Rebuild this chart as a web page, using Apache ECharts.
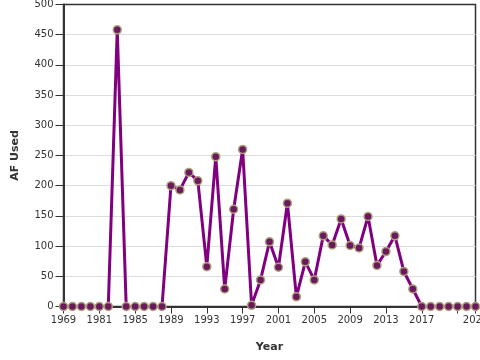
<!DOCTYPE html>
<html><head><meta charset="utf-8">
<script src="https://cdn.jsdelivr.net/npm/echarts@6/dist/echarts.min.js"></script>
<style>html,body{margin:0;padding:0;background:#fff}#c{width:480px;height:360px}</style>
</head><body><div id="c"></div>
<script>
const years = ['1969','1978','1979','1980','1981','1982','1983','1984','1985','1986','1987','1988',
  '1989','1990','1991','1992','1993','1994','1995','1996','1997','1998','1999','2000','2001','2002',
  '2003','2004','2005','2006','2007','2008','2009','2010','2011','2012','2013','2014','2015','2016',
  '2017','2018','2019','2020','2021','2022','2023'];
const afUsed = [0,0,0,0,0,0,458,0,0,0,0,0,
  200,193,222,208,66,248,29,161,260,2,44,107,65,171,
  16,74,44,117,102,145,101,97,149,68,91,117,58,29,
  0,0,0,0,0,0,0];
const yTicks = {min:0, max:500, interval:50};

const last = years.length - 1;
const chart = echarts.init(document.getElementById('c'), null, {renderer:'canvas'});
chart.setOption({
  animation:false,
  grid:{left:63.5, right:4.5, top:4.5, bottom:53.5, show:true, borderColor:'#333', borderWidth:1.5,
    containLabel:false, outerBoundsMode:'none'},
  xAxis:{
    type:'category', data:years, boundaryGap:false,
    name:'Year', nameLocation:'middle', nameGap:35,
    nameTextStyle:{fontFamily:'DejaVu Sans', fontWeight:'bold', fontSize:11, color:'#333'},
    axisLine:{lineStyle:{color:'#333', width:2}},
    axisTick:{length:7, lineStyle:{color:'#333', width:1}, interval:(i)=> i%4===0 || i===last},
    axisLabel:{fontFamily:'DejaVu Sans', fontSize:10, color:'#333', margin:9,
      interval:(i)=> (i%4===0 && i!==44) || i===last},
    splitLine:{show:false}
  },
  yAxis:{
    type:'value', min:yTicks.min, max:yTicks.max, interval:yTicks.interval,
    name:'AF Used', nameLocation:'middle', nameGap:43,
    nameTextStyle:{fontFamily:'DejaVu Sans', fontWeight:'bold', fontSize:11, color:'#333'},
    axisLine:{show:true, lineStyle:{color:'#333', width:2}},
    axisTick:{show:true, length:8, lineStyle:{color:'#333', width:1}},
    axisLabel:{fontFamily:'DejaVu Sans', fontSize:10, color:'#333', margin:10},
    splitLine:{showMaxLine:false, showMinLine:false, lineStyle:{color:'#ddd', width:1}}
  },
  series:[{
    type:'line', data:afUsed, symbol:'circle', symbolSize:8, showAllSymbol:true,
    lineStyle:{color:'#800080', width:3},
    itemStyle:{color:'#6a1a5c', borderColor:'#ada07c', borderWidth:1.5},
    clip:false
  }]
});
</script></body></html>
